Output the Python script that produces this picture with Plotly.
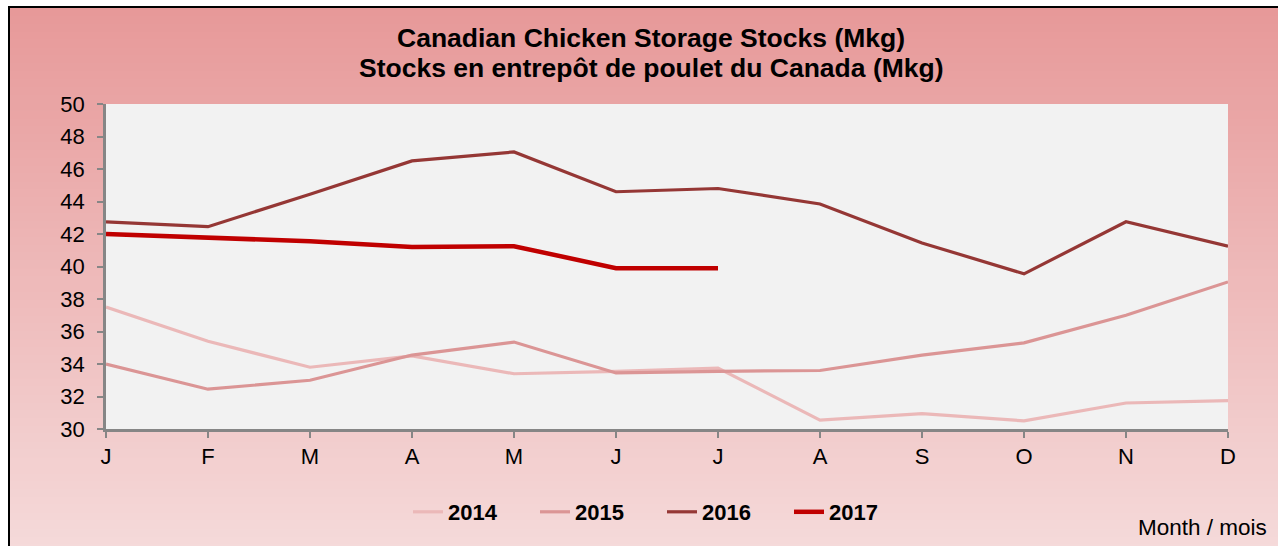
import plotly.graph_objects as go

months = ["J", "F", "M", "A", "M", "J", "J", "A", "S", "O", "N", "D"]
stocks_2014 = [37.5, 35.4, 33.8, 34.5, 33.4, 33.55, 33.75, 30.55, 30.95, 30.5, 31.6, 31.75]
stocks_2015 = [34.0, 32.45, 33.0, 34.55, 35.35, 33.45, 33.55, 33.6, 34.55, 35.3, 37.0, 39.05]
stocks_2016 = [42.75, 42.45, 44.45, 46.5, 47.05, 44.6, 44.8, 43.85, 41.45, 39.55, 42.75, 41.25]
stocks_2017 = [42.0, 41.75, 41.55, 41.2, 41.25, 39.9, 39.9]

series = [
    ("2014", stocks_2014, "#EBB8B8", 3.2),
    ("2015", stocks_2015, "#DB9595", 3.2),
    ("2016", stocks_2016, "#953735", 3.2),
    ("2017", stocks_2017, "#C00000", 4.5),
]

FONT = "Arial, Liberation Sans, sans-serif"

# plot area in pixels
L, R, T, B = 106, 1228, 104, 429
W, H = 1278, 546


def px(x):
    return (x - L) / (R - L)


def py(y):
    return (B - y) / (B - T)


fig = go.Figure()
idx = list(range(len(months)))
for name, vals, color, width in series:
    fig.add_trace(go.Scatter(
        x=idx[:len(vals)], y=vals, mode="lines", name=name,
        line=dict(color=color, width=width),
        cliponaxis=False,
    ))

shapes = []
# gradient background inside border
top_c = (231, 153, 153)
bot_c = (245, 219, 219)
y0, y1 = 8, 560
n = 70
for i in range(n):
    a = y0 + (y1 - y0) * i / n
    b = y0 + (y1 - y0) * (i + 1) / n + 1
    t = i / (n - 1)
    c = tuple(round(top_c[k] + (bot_c[k] - top_c[k]) * t) for k in range(3))
    shapes.append(dict(type="rect", xref="paper", yref="paper",
                       x0=px(9), x1=px(1300), y0=py(a), y1=py(b),
                       fillcolor="rgb(%d,%d,%d)" % c, line=dict(width=0), layer="below"))
# plot area background
shapes.append(dict(type="rect", xref="paper", yref="paper", x0=0, x1=1, y0=0, y1=1,
                   fillcolor="#F2F2F2", line=dict(width=0), layer="below"))
# outer border
shapes.append(dict(type="rect", xref="paper", yref="paper",
                   x0=px(9), x1=px(1300), y0=py(7), y1=py(570),
                   fillcolor="rgba(0,0,0,0)", line=dict(color="black", width=2), layer="above"))

annotations = [
    dict(text="<b>Canadian Chicken Storage Stocks (Mkg)</b>", x=px(651), y=py(38),
         xref="paper", yref="paper", showarrow=False, xanchor="center", yanchor="middle",
         font=dict(family=FONT, size=26.5, color="black")),
    dict(text="<b>Stocks en entrepôt de poulet du Canada (Mkg)</b>", x=px(651), y=py(68),
         xref="paper", yref="paper", showarrow=False, xanchor="center", yanchor="middle",
         font=dict(family=FONT, size=26.5, color="black")),
    dict(text="Month / mois", x=px(1269), y=py(527), xref="paper", yref="paper",
         showarrow=False, xanchor="right", yanchor="middle",
         font=dict(family=FONT, size=22.5, color="black")),
]

fig.update_layout(
    width=W, height=H,
    margin=dict(l=L, r=W - R, t=T, b=H - B),
    paper_bgcolor="white",
    plot_bgcolor="#F2F2F2",
    showlegend=True,
    legend=dict(orientation="h", x=px(408), xanchor="left", y=py(512), yanchor="middle",
                font=dict(family=FONT, size=22, color="black", weight="bold"),
                bgcolor="rgba(0,0,0,0)", entrywidth=82, entrywidthmode="pixels",
                traceorder="normal", itemwidth=30),
    shapes=shapes,
    annotations=annotations,
    font=dict(family=FONT, size=22, color="black"),
)
fig.update_xaxes(
    range=[0, 11], tickmode="array", tickvals=idx, ticktext=months,
    showgrid=False, zeroline=False, showline=True, linecolor="#868686", linewidth=2.5,
    ticks="outside", ticklen=6, tickwidth=1.5, tickcolor="#868686",
    tickfont=dict(family=FONT, size=22, color="black"), fixedrange=True,
)
fig.update_yaxes(
    range=[30, 50], tickmode="array", tickvals=list(range(30, 51, 2)),
    showgrid=False, zeroline=False, showline=True, linecolor="#868686", linewidth=2.5,
    ticks="outside", ticklen=6, tickwidth=1.5, tickcolor="#868686", ticklabelstandoff=8,
    tickfont=dict(family=FONT, size=22, color="black"), fixedrange=True,
)
fig.update_traces(hoverinfo="skip")

fig.write_html("out.html", config={"displayModeBar": False},
               post_script="document.body.style.margin='0';")
